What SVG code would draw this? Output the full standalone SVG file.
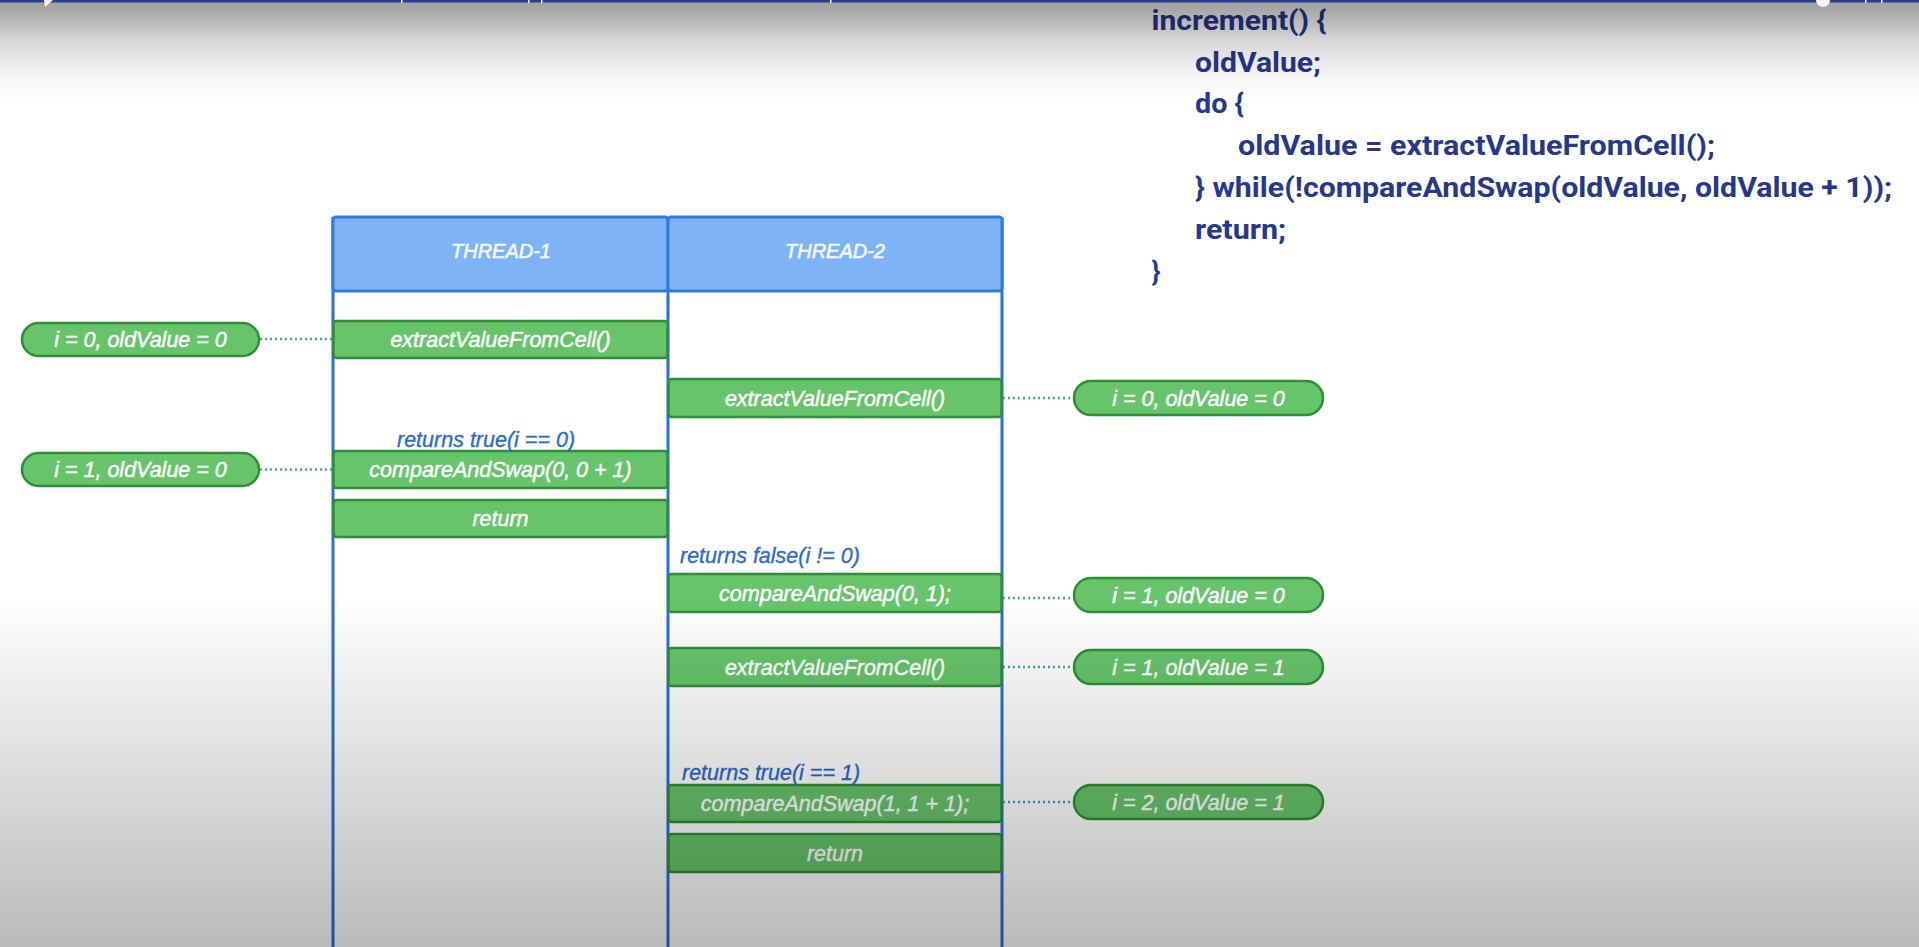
<svg xmlns="http://www.w3.org/2000/svg" width="1919" height="947" viewBox="0 0 1919 947">
<defs>
<style>
.hdr{fill:#7eb4f7;stroke:#2f7be0;stroke-width:3}
.lane{stroke:#2b6fd2;stroke-width:3;fill:none}
.box{fill:#67c46b;stroke:#2f8f36;stroke-width:2.5}
.pill{fill:#67c46b;stroke:#2f8f36;stroke-width:2.5}
.t{font-family:"Liberation Sans",Arial,sans-serif;font-style:italic;font-size:21.5px;fill:#ffffff;stroke:#ffffff;stroke-width:0.45;text-anchor:middle}
.ht{font-family:"Liberation Sans",Arial,sans-serif;font-style:italic;font-size:20px;fill:#f4f8ff;stroke:#f4f8ff;stroke-width:0.6;text-anchor:middle}
.lbl{font-family:"Liberation Sans",Arial,sans-serif;font-style:italic;font-size:21.5px;fill:#2b6cc9;stroke:#2b6cc9;stroke-width:0.35}
.dot{stroke:#3aa6a8;stroke-width:2.5;stroke-dasharray:2 3;fill:none}
.code{font-family:Roboto,"Liberation Sans",sans-serif;font-weight:bold;font-size:28px;fill:#27378a}
</style>
<linearGradient id="shade" x1="0" y1="0" x2="0" y2="1">
<stop offset="0" stop-color="#000" stop-opacity="0.38"/>
<stop offset="0.011" stop-color="#000" stop-opacity="0.34"/>
<stop offset="0.042" stop-color="#000" stop-opacity="0.165"/>
<stop offset="0.063" stop-color="#000" stop-opacity="0.09"/>
<stop offset="0.084" stop-color="#000" stop-opacity="0.03"/>
<stop offset="0.106" stop-color="#000" stop-opacity="0"/>
<stop offset="0.63" stop-color="#000" stop-opacity="0"/>
<stop offset="1" stop-color="#000" stop-opacity="0.27"/>
</linearGradient>
</defs>
<rect id="background" x="0" y="0" width="1919" height="947" fill="#ffffff"/>

<g id="table">
<line class="lane" x1="333" y1="217" x2="333" y2="947"/>
<line class="lane" x1="668" y1="217" x2="668" y2="947"/>
<line class="lane" x1="1002" y1="217" x2="1002" y2="947"/>
<rect class="hdr" x="333" y="217" width="335" height="74" rx="3"/>
<rect class="hdr" x="668" y="217" width="334" height="74" rx="3"/>
<text class="ht" x="501" y="258">THREAD-1</text>
<text class="ht" x="835" y="258">THREAD-2</text>
</g>

<g id="connectors">
<line class="dot" x1="260" y1="339" x2="333" y2="339"/>
<line class="dot" x1="260" y1="469.5" x2="333" y2="469.5"/>
<line class="dot" x1="1003" y1="398" x2="1074" y2="398"/>
<line class="dot" x1="1003" y1="598" x2="1074" y2="598"/>
<line class="dot" x1="1003" y1="667" x2="1074" y2="667"/>
<line class="dot" x1="1003" y1="802" x2="1074" y2="802"/>
</g>

<g id="t1-extract"><rect class="box" x="333.5" y="321" width="334" height="37" rx="3"/><text class="t" x="500.5" y="347">extractValueFromCell()</text></g>
<g id="t1-cas"><rect class="box" x="333.5" y="451" width="334" height="37" rx="3"/><text class="t" x="500.5" y="477">compareAndSwap(0, 0 + 1)</text></g>
<g id="t1-return"><rect class="box" x="333.5" y="500" width="334" height="37" rx="3"/><text class="t" x="500.5" y="526">return</text></g>
<g id="t2-extract1"><rect class="box" x="668.5" y="379" width="333" height="38" rx="3"/><text class="t" x="835" y="405.5">extractValueFromCell()</text></g>
<g id="t2-cas1"><rect class="box" x="668.5" y="574" width="333" height="38" rx="3"/><text class="t" x="835" y="600.5">compareAndSwap(0, 1);</text></g>
<g id="t2-extract2"><rect class="box" x="668.5" y="648" width="333" height="38" rx="3"/><text class="t" x="835" y="674.5">extractValueFromCell()</text></g>
<g id="t2-cas2"><rect class="box" x="668.5" y="785" width="333" height="37" rx="3"/><text class="t" x="835" y="811">compareAndSwap(1, 1 + 1);</text></g>
<g id="t2-return"><rect class="box" x="668.5" y="834" width="333" height="38" rx="3"/><text class="t" x="835" y="860.5">return</text></g>

<g id="label-1"><text class="lbl" x="397" y="447">returns true(i == 0)</text></g>
<g id="label-2"><text class="lbl" x="680" y="563">returns false(i != 0)</text></g>
<g id="label-3"><text class="lbl" x="682" y="780">returns true(i == 1)</text></g>

<g id="pill-l1"><rect class="pill" x="22" y="323" width="237" height="33" rx="16.5"/><text class="t" x="140.5" y="347">i = 0, oldValue = 0</text></g>
<g id="pill-l2"><rect class="pill" x="22" y="453" width="237" height="33" rx="16.5"/><text class="t" x="140.5" y="477">i = 1, oldValue = 0</text></g>
<g id="pill-r1"><rect class="pill" x="1074" y="381" width="249" height="34" rx="17"/><text class="t" x="1198.5" y="405.5">i = 0, oldValue = 0</text></g>
<g id="pill-r2"><rect class="pill" x="1074" y="578" width="249" height="34" rx="17"/><text class="t" x="1198.5" y="602.5">i = 1, oldValue = 0</text></g>
<g id="pill-r3"><rect class="pill" x="1074" y="650" width="249" height="34" rx="17"/><text class="t" x="1198.5" y="674.5">i = 1, oldValue = 1</text></g>
<g id="pill-r4"><rect class="pill" x="1074" y="785" width="249" height="34" rx="17"/><text class="t" x="1198.5" y="809.5">i = 2, oldValue = 1</text></g>

<g id="code">
<text class="code" x="1151.5" y="30" textLength="175" lengthAdjust="spacingAndGlyphs">increment() {</text>
<text class="code" x="1195" y="72" textLength="126" lengthAdjust="spacingAndGlyphs">oldValue;</text>
<text class="code" x="1195" y="113" textLength="49" lengthAdjust="spacingAndGlyphs">do {</text>
<text class="code" x="1238" y="155" textLength="477" lengthAdjust="spacingAndGlyphs">oldValue = extractValueFromCell();</text>
<text class="code" x="1195" y="197" textLength="697" lengthAdjust="spacingAndGlyphs">} while(!compareAndSwap(oldValue, oldValue + 1));</text>
<text class="code" x="1195" y="239" textLength="91" lengthAdjust="spacingAndGlyphs">return;</text>
<text class="code" x="1151.5" y="281" textLength="9" lengthAdjust="spacingAndGlyphs">}</text>
</g>

<rect id="shade-overlay" x="0" y="0" width="1919" height="947" fill="url(#shade)"/>

<g id="player-bar">
<rect x="0" y="0" width="1919" height="2.5" fill="#2c3f8f"/>
<g fill="#f4f4f4">
<rect x="401" y="0" width="1.5" height="3"/>
<rect x="528" y="0" width="1.5" height="3"/>
<rect x="541" y="0" width="1.5" height="3"/>
<rect x="830" y="0" width="1.5" height="3"/>
<rect x="1865" y="0" width="1.5" height="3"/>
<rect x="1881" y="0" width="1.5" height="3"/>
<circle cx="1823" cy="0" r="7"/>
<polygon points="44,0 53,0 45,7"/>
</g>
</g>
</svg>
